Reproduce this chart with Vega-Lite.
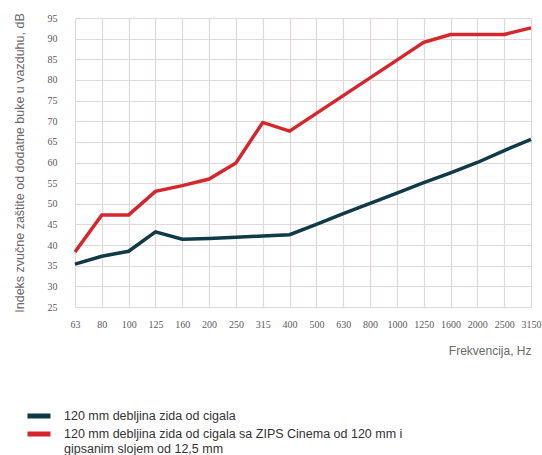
{
  "$schema": "https://vega.github.io/schema/vega-lite/v6.json",
  "autosize": {"type": "none"},
  "padding": {"left": 75, "top": 18, "right": 11, "bottom": 148},
  "width": 456,
  "height": 289,
  "background": "#ffffff",
  "config": {
    "view": {"stroke": null},
    "font": "Liberation Sans"
  },
  "data": {
    "values": [
      {"f": "63", "s": "a", "v": 35.4},
      {"f": "80", "s": "a", "v": 37.3},
      {"f": "100", "s": "a", "v": 38.5},
      {"f": "125", "s": "a", "v": 43.2},
      {"f": "160", "s": "a", "v": 41.4},
      {"f": "200", "s": "a", "v": 41.6},
      {"f": "250", "s": "a", "v": 41.9},
      {"f": "315", "s": "a", "v": 42.2},
      {"f": "400", "s": "a", "v": 42.5},
      {"f": "500", "s": "a", "v": 45.0},
      {"f": "630", "s": "a", "v": 47.6},
      {"f": "800", "s": "a", "v": 50.1},
      {"f": "1000", "s": "a", "v": 52.6},
      {"f": "1250", "s": "a", "v": 55.1},
      {"f": "1600", "s": "a", "v": 57.5},
      {"f": "2000", "s": "a", "v": 60.0},
      {"f": "2500", "s": "a", "v": 62.9},
      {"f": "3150", "s": "a", "v": 65.6},
      {"f": "63", "s": "b", "v": 38.3},
      {"f": "80", "s": "b", "v": 47.3},
      {"f": "100", "s": "b", "v": 47.3},
      {"f": "125", "s": "b", "v": 53.0},
      {"f": "160", "s": "b", "v": 54.4},
      {"f": "200", "s": "b", "v": 56.0},
      {"f": "250", "s": "b", "v": 59.9},
      {"f": "315", "s": "b", "v": 69.7},
      {"f": "400", "s": "b", "v": 67.6},
      {"f": "500", "s": "b", "v": 71.9},
      {"f": "630", "s": "b", "v": 76.2},
      {"f": "800", "s": "b", "v": 80.5},
      {"f": "1000", "s": "b", "v": 84.8},
      {"f": "1250", "s": "b", "v": 89.1},
      {"f": "1600", "s": "b", "v": 91.0},
      {"f": "2000", "s": "b", "v": 91.0},
      {"f": "2500", "s": "b", "v": 91.0},
      {"f": "3150", "s": "b", "v": 92.6}
    ]
  },
  "mark": {"type": "line", "strokeWidth": 3.5, "strokeJoin": "miter"},
  "encoding": {
    "x": {
      "field": "f",
      "type": "ordinal",
      "sort": null,
      "scale": {"type": "point", "padding": 0},
      "axis": {
        "title": "Frekvencija, Hz",
        "titleAnchor": "end",
        "titleAlign": "right",
        "titleFontSize": 12,
        "titleFontWeight": "normal",
        "titleColor": "#6a6a6a",
        "titlePadding": 16,
        "labelAngle": 0,
        "labelFont": "Liberation Sans Narrow",
        "labelFontSize": 10,
        "labelColor": "#5a5a5a",
        "labelPadding": 12,
        "ticks": false,
        "domain": false,
        "grid": true,
        "gridColor": "#e2d8d8",
        "gridWidth": 1.2
      }
    },
    "y": {
      "field": "v",
      "type": "quantitative",
      "scale": {"domain": [25, 95], "nice": false, "zero": false},
      "axis": {
        "title": "Indeks zvučne zaštite od dodatne buke u vazduhu, dB",
        "titleFontSize": 12.5,
        "titleFontWeight": "normal",
        "titleColor": "#6a6a6a",
        "titlePadding": 21,
        "values": [25, 30, 35, 40, 45, 50, 55, 60, 65, 70, 75, 80, 85, 90, 95],
        "labelFont": "Liberation Sans Narrow",
        "labelFontSize": 10,
        "labelColor": "#5a5a5a",
        "labelPadding": 18,
        "ticks": false,
        "domain": false,
        "grid": true,
        "gridColor": "#e2d8d8",
        "gridWidth": 1.2
      }
    },
    "color": {
      "field": "s",
      "type": "nominal",
      "scale": {"domain": ["a", "b"], "range": ["#0f3a47", "#d6262d"]},
      "legend": {
        "orient": "none",
        "legendX": -50,
        "legendY": 389,
        "title": null,
        "symbolType": "stroke",
        "symbolSize": 529,
        "symbolStrokeWidth": 5,
        "labelExpr": "datum.value == 'a' ? '120 mm debljina zida od cigala' : ['120 mm debljina zida od cigala sa ZIPS Cinema od 120 mm i', 'gipsanim slojem od 12,5 mm']",
        "labelFontSize": 12.5,
        "labelBaseline": "middle",
        "labelColor": "#333333",
        "labelLimit": 500,
        "labelOffset": 11,
        "labelLineHeight": 17,
        "clipHeight": 18,
        "rowPadding": 0
      }
    }
  }
}
